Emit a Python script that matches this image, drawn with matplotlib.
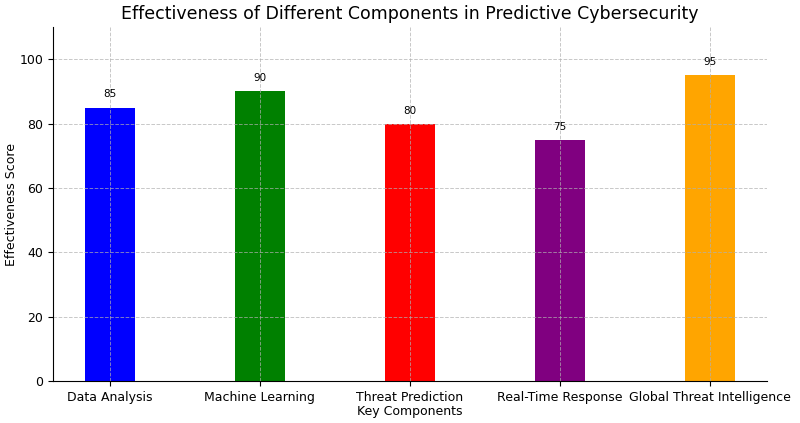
import matplotlib
matplotlib.use("Agg")
import matplotlib.pyplot as plt

components = ['Data Analysis', 'Machine Learning', 'Threat Prediction',
              'Real-Time Response', 'Global Threat Intelligence']
scores = [85, 90, 80, 75, 95]
colors = ['blue', 'green', 'red', 'purple', 'orange']

fig = plt.figure(figsize=(8, 4.23), dpi=100)
ax = fig.add_axes([0.066, 0.099, 0.893, 0.837])

bars = ax.bar(components, scores, color=colors, width=0.33)
for b, v in zip(bars, scores):
    ax.text(b.get_x() + b.get_width() / 2, v + 2.5, str(v),
            ha='center', va='bottom', fontsize=7.5)

ax.set_ylim(0, 110)
ax.set_xlim(-0.38, 4.38)
ax.set_title('Effectiveness of Different Components in Predictive Cybersecurity', fontsize=12.5)
ax.set_xlabel('Key Components', fontsize=9, labelpad=1)
ax.set_ylabel('Effectiveness Score', fontsize=9, labelpad=1)
ax.tick_params(labelsize=9)
ax.grid(True, linestyle='--', color='#b0b0b0', linewidth=0.7, alpha=0.7)
ax.spines['top'].set_visible(False)
ax.spines['right'].set_visible(False)

plt.savefig('out.png')
